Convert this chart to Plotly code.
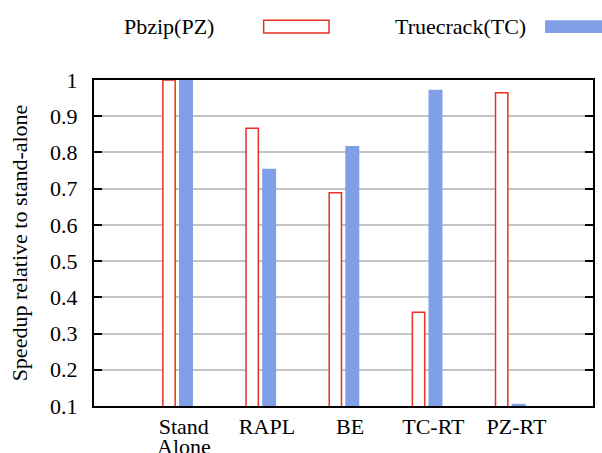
import numpy as np
import plotly.graph_objects as go

# Workloads and normalised speedups
categories = ["Stand", "RAPL", "BE", "TC-RT", "PZ-RT"]
category_second_line = ["Alone", "", "", "", ""]
pbzip = [1.0, 0.867, 0.689, 0.359, 0.965]
truecrack = [1.0, 0.755, 0.818, 0.973, 0.106]
y_ticks = [0.1, 0.2, 0.3, 0.4, 0.5, 0.6, 0.7, 0.8, 0.9, 1]

FONT = "Liberation Serif"
FS = 22
INK = "black"
RED = "#e8321f"
BLUE = "#7f9fe6"

idx = np.arange(len(categories))

fig = go.Figure()
fig.add_trace(go.Bar(
    x=idx - 0.098, y=pbzip, width=0.148, name="Pbzip(PZ)",
    marker=dict(color="white", line=dict(color=RED, width=1.5)),
    showlegend=False,
))
fig.add_trace(go.Bar(
    x=idx + 0.106, y=truecrack, width=0.168, name="Truecrack(TC)",
    marker=dict(color=BLUE, line=dict(width=0)),
    showlegend=False,
))

# Second line of the wrapped category label, set tight under the first
for i, txt in enumerate(category_second_line):
    if txt:
        fig.add_annotation(x=i + 0.08, y=-0.123, xref="x", yref="paper", text=txt,
                           showarrow=False, xanchor="center", yanchor="middle",
                           font=dict(family=FONT, size=FS, color=INK))

# Key: label text followed by its swatch
fig.add_annotation(x=0.2435, y=1.165, xref="paper", yref="paper", text="Pbzip(PZ)",
                   showarrow=False, xanchor="right", yanchor="middle",
                   font=dict(family=FONT, size=FS, color=INK))
fig.add_shape(type="rect", xref="paper", yref="paper", x0=0.340, x1=0.471, y0=1.144, y1=1.183,
              line=dict(color=RED, width=1.5), fillcolor="white")
fig.add_annotation(x=0.870, y=1.165, xref="paper", yref="paper", text="Truecrack(TC)",
                   showarrow=False, xanchor="right", yanchor="middle",
                   font=dict(family=FONT, size=FS, color=INK))
fig.add_shape(type="rect", xref="paper", yref="paper", x0=0.904, x1=1.05, y0=1.144, y1=1.183,
              line=dict(width=0), fillcolor=BLUE)

fig.update_layout(
    width=602, height=453,
    margin=dict(l=94, r=9, t=80, b=47),
    paper_bgcolor="white", plot_bgcolor="white",
    barmode="overlay",
    xaxis=dict(
        range=[-1, 5], tickmode="array", tickvals=idx + 0.08, ticktext=categories,
        tickfont=dict(family=FONT, size=FS, color=INK),
        showline=True, linecolor="black", linewidth=2, mirror=True,
        ticks="", showgrid=False, zeroline=False, automargin=False,
    ),
    yaxis=dict(
        range=[0.1, 1], tickmode="array", tickvals=y_ticks,
        ticktext=[f"{v:g}" for v in y_ticks],
        tickfont=dict(family=FONT, size=FS, color=INK),
        showline=True, linecolor="black", linewidth=2, mirror="ticks",
        ticks="inside", ticklen=8, tickwidth=2, tickcolor="black",
        ticklabelstandoff=10,
        showgrid=True, gridcolor="#c4c4c4", gridwidth=1.5, zeroline=False,
        title=dict(text="Speedup relative to stand-alone", standoff=16,
                   font=dict(family=FONT, size=FS, color=INK)),
        automargin=False,
    ),
)

fig.write_html("out.html")
